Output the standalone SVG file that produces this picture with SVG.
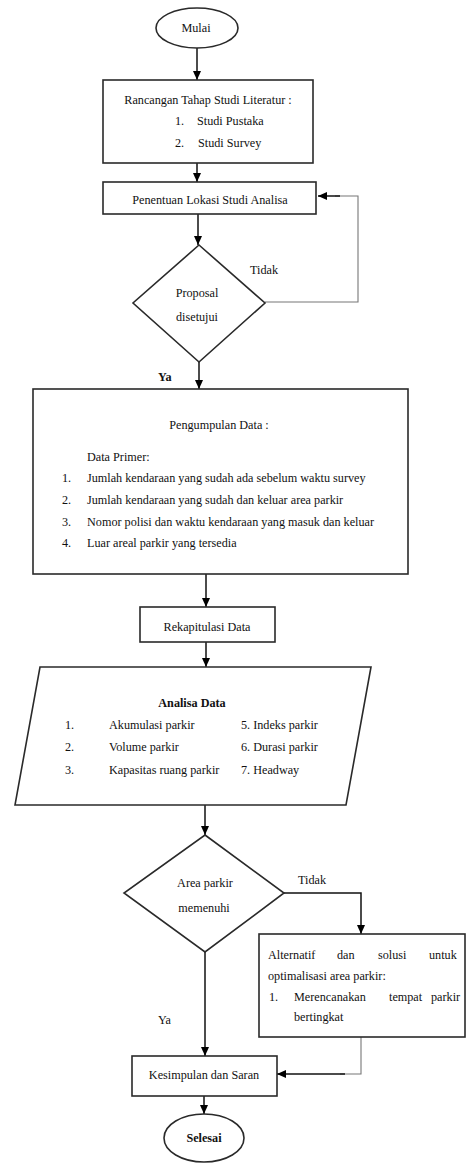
<svg xmlns="http://www.w3.org/2000/svg" width="467" height="1164" viewBox="0 0 467 1164">
<style>
.s{fill:#fff;stroke:#2a2a2a;stroke-width:1.6}
.t{font-family:"Liberation Serif","Times New Roman",serif;font-size:12.2px;fill:#111}
.c{text-anchor:middle}
.b{font-weight:bold}
.ln{fill:none;stroke:#111;stroke-width:1.5}
.lg{fill:none;stroke:#777;stroke-width:1.1}
</style>
<defs>
<marker id="ah" markerUnits="userSpaceOnUse" markerWidth="10" markerHeight="10" viewBox="0 0 10 10" refX="9" refY="5" orient="auto">
<path d="M0,1 L9,5 L0,9 Z" fill="#000"/>
</marker>
</defs>
<rect width="467" height="1164" fill="#fff"/>
<g id="connectors">
<line class="ln" x1="197" y1="48" x2="197" y2="80" marker-end="url(#ah)"/>
<line class="ln" x1="197" y1="163" x2="197" y2="182" marker-end="url(#ah)"/>
<line class="ln" x1="198" y1="214" x2="198" y2="245" marker-end="url(#ah)"/>
<polyline class="lg" points="265,302 358,302 358,196 335,196"/>
<line class="ln" x1="340" y1="196" x2="318" y2="196" marker-end="url(#ah)"/>
<line class="ln" x1="199" y1="362" x2="199" y2="389" marker-end="url(#ah)"/>
<line class="ln" x1="206" y1="574" x2="206" y2="607" marker-end="url(#ah)"/>
<line class="ln" x1="206" y1="642" x2="206" y2="667" marker-end="url(#ah)"/>
<line class="ln" x1="205" y1="805" x2="205" y2="835" marker-end="url(#ah)"/>
<polyline class="ln" points="284,893 361,893 361,934" marker-end="url(#ah)"/>
<line class="ln" x1="205" y1="952" x2="205" y2="1056" marker-end="url(#ah)"/>
<polyline class="lg" points="361,1037 361,1074 340,1074"/>
<line class="ln" x1="345" y1="1074" x2="277" y2="1074" marker-end="url(#ah)"/>
<line class="ln" x1="204" y1="1096" x2="204" y2="1114" marker-end="url(#ah)"/>
<text class="t" x="250" y="274">Tidak</text>
<text class="t b" x="158" y="381">Ya</text>
<text class="t" x="298" y="884">Tidak</text>
<text class="t" x="158" y="1024">Ya</text>
</g>
<g id="mulai">
<ellipse class="s" cx="197" cy="28" rx="41" ry="20"/>
<text class="t c" x="196" y="32">Mulai</text>
</g>
<g id="rancangan">
<rect class="s" x="103" y="80" width="210" height="83"/>
<text class="t c" x="208" y="104">Rancangan Tahap Studi Literatur :</text>
<text class="t" x="175" y="125">1.</text>
<text class="t" x="197" y="125">Studi Pustaka</text>
<text class="t" x="175" y="147">2.</text>
<text class="t" x="198" y="147">Studi Survey</text>
</g>
<g id="penentuan">
<rect class="s" x="103" y="182" width="213" height="32"/>
<text class="t c" x="210" y="204">Penentuan Lokasi Studi Analisa</text>
</g>
<g id="proposal">
<polygon class="s" points="199,245 265,303 199,362 133,303"/>
<text class="t c" x="197" y="297">Proposal</text>
<text class="t c" x="197" y="321">disetujui</text>
</g>
<g id="pengumpulan">
<rect class="s" x="33" y="389" width="375" height="185"/>
<text class="t c" x="219" y="429">Pengumpulan Data :</text>
<text class="t" x="87" y="461">Data Primer:</text>
<text class="t" x="62" y="482">1.</text>
<text class="t" x="87" y="482">Jumlah kendaraan yang sudah ada sebelum waktu survey</text>
<text class="t" x="62" y="504">2.</text>
<text class="t" x="87" y="504">Jumlah kendaraan yang sudah dan keluar area parkir</text>
<text class="t" x="62" y="526">3.</text>
<text class="t" x="87" y="526">Nomor polisi dan waktu kendaraan yang masuk dan keluar</text>
<text class="t" x="62" y="547">4.</text>
<text class="t" x="87" y="547">Luar areal parkir yang tersedia</text>
</g>
<g id="rekapitulasi">
<rect class="s" x="140" y="607" width="135" height="35"/>
<text class="t c" x="207" y="631">Rekapitulasi Data</text>
</g>
<g id="analisa">
<polygon class="s" points="40,667 371,667 346,805 15,805"/>
<text class="t c b" x="192" y="707">Analisa Data</text>
<text class="t" x="65" y="729">1.</text>
<text class="t" x="109" y="729">Akumulasi parkir</text>
<text class="t" x="241" y="729">5. Indeks parkir</text>
<text class="t" x="65" y="751">2.</text>
<text class="t" x="109" y="751">Volume parkir</text>
<text class="t" x="241" y="751">6. Durasi parkir</text>
<text class="t" x="65" y="774">3.</text>
<text class="t" x="109" y="774">Kapasitas ruang parkir</text>
<text class="t" x="241" y="774">7. Headway</text>
</g>
<g id="area">
<polygon class="s" points="205,835 284,893 205,952 124,893"/>
<text class="t c" x="205" y="887">Area parkir</text>
<text class="t c" x="204" y="912">memenuhi</text>
</g>
<g id="alternatif">
<rect class="s" x="259" y="934" width="206" height="103"/>
<text class="t" x="268" y="959">Alternatif</text>
<text class="t" x="337" y="959">dan</text>
<text class="t" x="378" y="959">solusi</text>
<text class="t" x="429" y="959">untuk</text>
<text class="t" x="268" y="980">optimalisasi area parkir:</text>
<text class="t" x="269" y="1001">1.</text>
<text class="t" x="294" y="1001">Merencanakan</text>
<text class="t" x="389" y="1001">tempat</text>
<text class="t" x="431" y="1001">parkir</text>
<text class="t" x="294" y="1021">bertingkat</text>
</g>
<g id="kesimpulan">
<rect class="s" x="132" y="1056" width="145" height="40"/>
<text class="t c" x="204" y="1079">Kesimpulan dan Saran</text>
</g>
<g id="selesai">
<ellipse class="s" cx="204" cy="1138" rx="40" ry="24"/>
<text class="t c b" x="204" y="1142">Selesai</text>
</g>
</svg>
